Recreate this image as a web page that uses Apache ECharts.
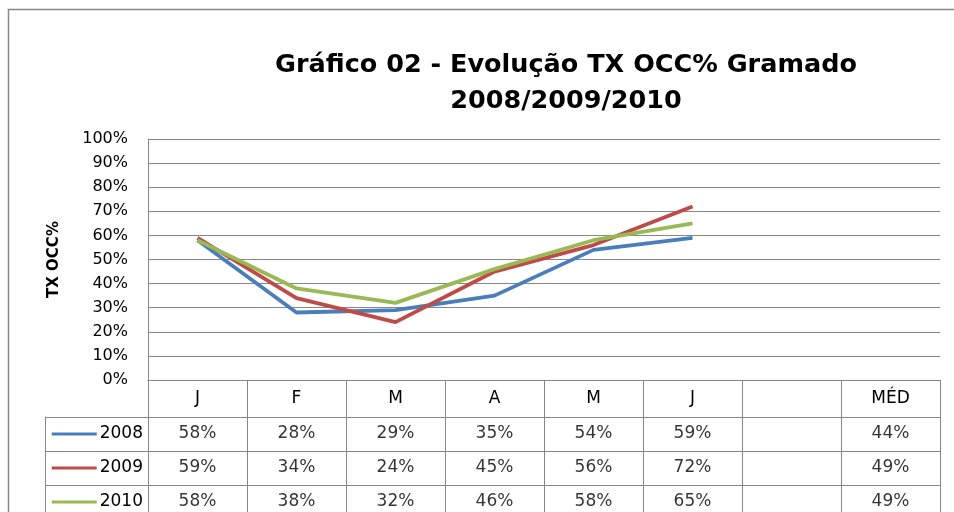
<!DOCTYPE html>
<html><head><meta charset="utf-8">
<script src="https://cdn.jsdelivr.net/npm/echarts@6/dist/echarts.min.js"></script>
<style>html,body{margin:0;padding:0;background:#fff}#c{width:954px;height:512px}</style>
</head><body><div id="c"></div>
<script>
const categories = ['J','F','M','A','M','J','','MÉD'];
const years = ['2008','2009','2010'];
const s2008 = [58,28,29,35,54,59];
const s2009 = [59,34,24,45,56,72];
const s2010 = [58,38,32,46,58,65];
const averages = [44,49,49];
const colors = ['#4A7EBB','#BE4B48','#98B954'];
const titleText = 'Gráfico 02 - Evolução TX OCC% Gramado\n2008/2009/2010';
const yAxisName = 'TX OCC%';

const FONT = 'DejaVu Sans';
const GRAY = '#878787';
const seriesValues = [s2008, s2009, s2010];
const cells = [];
seriesValues.forEach((vals, r) => {
  vals.forEach((v, c) => cells.push([c, r, v]));
  cells.push([7, r, averages[r]]);
});

const rich = { t: { fontSize: 17, fontFamily: FONT, color: '#000', padding: [0,0,0,3], verticalAlign: 'middle' } };
colors.forEach((c, i) => { rich['k' + i] = { backgroundColor: c, width: 45, height: 3, verticalAlign: 'middle' }; });

const chart = echarts.init(document.getElementById('c'), null, { renderer: 'canvas' });
chart.setOption({
  animation: false,
  backgroundColor: '#fff',
  title: {
    text: titleText, left: 566, top: 47, textAlign: 'center', padding: 0,
    textStyle: { fontFamily: FONT, fontWeight: 'bold', fontSize: 25.5, lineHeight: 36, color: '#000' }
  },
  graphic: [{
    type: 'rect', silent: true, z: -1,
    shape: { x: 8.5, y: 9.5, width: 1000, height: 600 },
    style: { fill: 'none', stroke: GRAY, lineWidth: 1.5 }
  }],
  grid: [
    { left: 148, right: 14, top: 139, height: 241, outerBoundsMode: 'none', containLabel: false },
    { left: 148, right: 14, top: 417, height: 102, outerBoundsMode: 'none', containLabel: false }
  ],
  xAxis: [
    { gridIndex: 0, type: 'category', data: categories, boundaryGap: true,
      axisLine: { show: true, lineStyle: { color: GRAY, width: 1 } },
      axisTick: { show: true, interval: 0, length: 140, lineStyle: { color: GRAY, width: 1 } },
      axisLabel: { interval: 0, margin: 10, fontSize: 17, fontFamily: FONT, color: '#000' } },
    { gridIndex: 1, type: 'category', data: categories, show: false }
  ],
  yAxis: [
    { gridIndex: 0, type: 'value', min: 0, max: 100, interval: 10,
      axisLine: { show: true, lineStyle: { color: GRAY, width: 1 } },
      axisTick: { show: false },
      splitLine: { show: true, lineStyle: { color: GRAY, width: 1 } },
      axisLabel: { formatter: '{value}%', margin: 20, fontSize: 16, fontFamily: FONT, color: '#000' },
      name: yAxisName, nameLocation: 'middle', nameGap: 86,
      nameTextStyle: { fontFamily: FONT, fontWeight: 'bold', fontSize: 15, color: '#000' } },
    { gridIndex: 1, type: 'category', data: years, inverse: true, position: 'left',
      axisLine: { show: false },
      axisTick: { show: true, interval: 0, length: 103, lineStyle: { color: GRAY, width: 1 } },
      splitLine: { show: true, interval: 0, lineStyle: { color: GRAY, width: 1 } },
      axisLabel: { interval: 0, margin: 5, formatter: (v, i) => '{k' + i + '|}{t|' + v + '}', rich: rich } },
    { gridIndex: 1, type: 'category', data: years, inverse: true, position: 'left', offset: 103,
      axisLine: { show: true, lineStyle: { color: GRAY, width: 1 } },
      axisTick: { show: false }, axisLabel: { show: false }, splitLine: { show: false } }
  ],
  series: [
    ...seriesValues.map((vals, i) => ({
      name: years[i], type: 'line', xAxisIndex: 0, yAxisIndex: 0, data: vals,
      symbol: 'none', lineStyle: { color: colors[i], width: 3.8 }, itemStyle: { color: colors[i] }
    })),
    { type: 'scatter', xAxisIndex: 1, yAxisIndex: 1, data: cells, symbolSize: 1, silent: true,
      itemStyle: { color: 'rgba(0,0,0,0)' },
      label: { show: true, position: 'inside', formatter: p => p.value[2] + '%',
               fontSize: 17, fontFamily: FONT, color: '#000' } }
  ]
});
</script></body></html>
